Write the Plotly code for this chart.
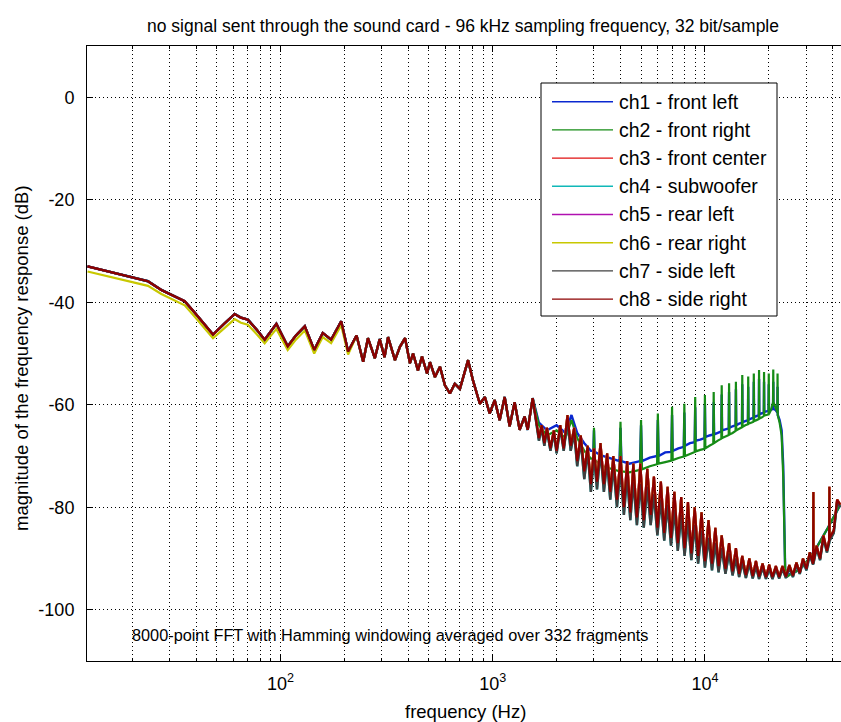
import plotly.graph_objects as go

# ---------------- data ----------------
channel_names = ["ch1 - front left", "ch2 - front right", "ch3 - front center",
                 "ch4 - subwoofer", "ch5 - rear left", "ch6 - rear right",
                 "ch7 - side left", "ch8 - side right"]
channel_colors = ["#0a28d0", "#168c16", "#e01010", "#10b8b8",
                  "#b010b0", "#c8c800", "#404040", "#8c0000"]

# low-frequency part, common to all channels (Hz, dB)
freq_lf = [12.3, 16, 20, 23.7, 27.4, 31.6, 35.3, 39.3, 43.8, 48.0,
           54.5, 60.7, 65, 70.1, 77, 84.1, 95.5, 108, 118, 130,
           144, 158, 173, 193, 208, 228, 245, 258, 278, 293,
           309, 321, 346, 365, 386, 407, 421, 444, 464, 490,
           506, 534, 564, 595, 628, 662, 700, 735, 765, 806,
           869, 918, 967, 1021, 1078, 1138, 1201, 1268, 1339, 1413,
           1461, 1542]
level_lf = [-33.0, -34.2, -35.1, -35.9, -37.6, -38.9, -39.8, -42.0, -44.4, -46.3,
            -44.1, -42.3, -43.0, -43.4, -45.3, -47.3, -44.2, -48.6, -46.5, -44.7,
            -49.3, -46.0, -47.3, -43.7, -49.6, -46.5, -51.6, -47.0, -50.9, -47.2,
            -50.7, -46.8, -51.3, -48.7, -47.0, -51.9, -50.0, -53.3, -50.6, -53.9,
            -51.7, -54.6, -52.6, -56.2, -57.8, -55.9, -56.9, -54.0, -51.3, -55.2,
            -59.8, -58.5, -61.7, -59.1, -63.0, -58.5, -64.2, -59.5, -64.9, -62.3,
            -64.9, -58.7]
# ch6 (yellow) runs slightly below the others at low frequency
level_lf_ch6 = [-34.0, -35.1, -36.0, -36.8, -38.4, -39.7, -40.6, -42.8, -45.2, -47.0,
                -45.0, -43.3, -44.0, -44.4, -46.2, -48.0, -45.2, -49.3, -47.3, -45.5,
                -50.0, -46.8, -48.0, -44.5, -50.2, -46.5, -51.6, -47.0, -50.9, -47.2,
                -50.7, -46.8, -51.3, -48.7, -47.0, -51.9, -50.0, -53.3, -50.6, -53.9,
                -51.7, -54.6, -52.6, -56.2, -57.8, -55.9, -56.9, -54.0, -51.3, -55.2,
                -59.8, -58.5, -61.7, -59.1, -63.0, -58.5, -64.2, -59.5, -64.9, -62.3,
                -64.9, -58.7]

# high-frequency part of ch1 / ch2 (rising noise with 1 kHz harmonics, cut near 24 kHz)
freq_hf12 = [1650, 1800, 2000, 2200, 2350, 2500, 2700, 2900, 2980, 3000,
             3020, 3300, 3600, 3960, 4000, 4040, 4400, 4950, 5000, 5050,
             5500, 5950, 6000, 6050, 6500, 6950, 7000, 7050, 7500, 7950,
             8000, 8050, 8500, 8950, 9000, 9050, 9500, 9950, 10000, 10050,
             10500, 10950, 11000, 11050, 11500, 11950, 12000, 12050, 12500, 12950,
             13000, 13050, 13500, 13950, 14000, 14050, 14500, 14950, 15000, 15050,
             15500, 15950, 16000, 16050, 16500, 16950, 17000, 17050, 17500, 17950,
             18000, 18050, 18500, 18950, 19000, 19050, 19500, 19950, 20000, 20050,
             20500, 20950, 21000, 21050, 21500, 21950, 22000, 22050, 22500, 23000,
             23400, 23700, 23900, 24500, 25500, 27000, 29000, 31000, 34000, 38000,
             43500]
ch1_hf = [-63.5, -65.0, -64.0, -65.5, -62.0, -65.5, -67.5, -69.0, -69.0, -65.0,
          -69.2, -70.0, -70.5, -71.0, -64.5, -71.0, -71.5, -71.0, -64.0, -71.0,
          -70.3, -70.0, -63.0, -70.0, -69.3, -69.2, -62.0, -69.0, -68.5, -68.2,
          -61.5, -68.0, -67.5, -67.3, -60.5, -67.0, -66.8, -66.5, -60.0, -66.3,
          -66.0, -65.8, -59.5, -65.8, -65.5, -65.2, -58.0, -65.0, -64.8, -64.6,
          -57.5, -64.5, -64.2, -64.0, -57.0, -64.0, -63.7, -63.5, -56.0, -63.4,
          -63.2, -63.0, -56.5, -62.9, -62.7, -62.5, -55.5, -62.4, -62.2, -62.0,
          -55.0, -61.9, -61.7, -61.5, -55.5, -61.4, -61.3, -61.2, -56.0, -61.1,
          -61.0, -60.8, -55.5, -60.8, -61.0, -61.5, -56.5, -62.0, -63.0, -65.0,
          -72.0, -86.0, -92.5, -93.0, -93.0, -92.5, -91.5, -90.0, -87.5, -84.0,
          -79.5]
ch2_hf = [-64.0, -66.0, -65.0, -66.5, -63.0, -66.5, -69.0, -70.5, -70.5, -64.5,
          -70.8, -72.0, -72.5, -73.0, -63.3, -73.0, -73.2, -72.7, -63.0, -72.6,
          -72.0, -71.6, -61.7, -71.5, -71.2, -70.9, -60.4, -70.8, -70.4, -70.1,
          -59.8, -70.0, -69.6, -69.2, -58.5, -69.1, -68.8, -68.6, -58.1, -68.5,
          -68.0, -67.6, -57.5, -67.5, -67.0, -66.6, -56.2, -66.5, -66.2, -65.9,
          -55.8, -65.8, -65.5, -65.1, -55.5, -65.0, -64.7, -64.4, -54.2, -64.3,
          -64.0, -63.8, -54.5, -63.7, -63.5, -63.3, -53.9, -63.2, -63.0, -62.8,
          -53.2, -62.7, -62.5, -62.2, -53.6, -62.1, -62.0, -61.9, -53.9, -61.8,
          -61.0, -59.5, -53.1, -59.5, -60.5, -61.5, -53.9, -62.0, -63.5, -66.0,
          -74.0, -82.0, -92.0, -93.5, -93.0, -92.5, -91.5, -90.0, -87.5, -84.0,
          -79.5]

# high-frequency noise floor of ch3..ch8 (alternating peaks / troughs)
freq_floor = [1600, 1650, 1700, 1750, 1800, 1870, 1940, 2000, 2080, 2160,
              2250, 2330, 2420, 2500, 2600, 2700, 2800, 2900, 3000, 3100,
              3220, 3340, 3460, 3580, 3700, 3850, 4000, 4150, 4300, 4450,
              4600, 4780, 4960, 5150, 5350, 5550, 5750, 5970, 6200, 6430,
              6670, 6920, 7180, 7450, 7730, 8020, 8320, 8630, 8950, 9290,
              9640, 10000, 10400, 10800, 11200, 11600, 12000, 12500, 13000, 13500,
              14000, 14500, 15000, 15600, 16200, 16800, 17400, 18000, 18700, 19400,
              20100, 20800, 21600, 22400, 23200, 24100, 25000, 26000, 27000, 28000,
              29000, 30100, 31200, 32350, 32450, 32550, 33600, 34900, 36200, 37600,
              38500, 38600, 38700, 40500, 42000, 43500]
floor_hf = [-63.0, -66.5, -64.0, -67.5, -64.5, -68.5, -65.0, -69.0, -64.0, -68.5,
            -62.0, -68.0, -64.5, -71.0, -66.0, -73.0, -68.0, -75.5, -68.5, -75.0,
            -67.5, -75.5, -69.5, -77.0, -70.0, -78.5, -70.0, -80.0, -71.0, -81.0,
            -71.5, -82.0, -71.5, -82.5, -72.5, -81.5, -74.0, -84.0, -75.0, -85.0,
            -76.0, -86.0, -77.0, -87.0, -78.0, -88.0, -79.0, -89.0, -80.0, -89.5,
            -81.0, -90.5, -82.5, -91.0, -84.0, -91.5, -85.5, -92.0, -87.0, -92.5,
            -88.0, -93.0, -89.5, -93.2, -90.0, -93.4, -90.5, -93.5, -91.0, -93.6,
            -91.2, -93.6, -91.5, -93.6, -91.5, -93.5, -91.3, -93.3, -90.8, -92.8,
            -90.0, -92.0, -88.8, -91.0, -77.0, -90.5, -87.5, -90.0, -85.5, -88.5,
            -86.5, -76.0, -86.0, -84.5, -78.5, -79.5]
# ch4 / ch7 (cyan, grey) sit slightly lower in the 2.5-16 kHz range
floor_hf_low = [-63.5, -67.0, -64.5, -68.0, -65.0, -69.0, -65.5, -69.5, -64.5, -69.0,
                -63.0, -69.0, -65.5, -72.0, -67.0, -74.5, -69.0, -77.0, -70.0, -76.5,
                -69.0, -77.0, -71.0, -78.5, -72.0, -80.0, -72.5, -81.5, -74.0, -82.5,
                -75.0, -83.5, -75.5, -84.0, -76.0, -83.5, -77.5, -85.5, -78.5, -86.5,
                -79.5, -87.5, -80.5, -88.5, -81.5, -89.5, -82.5, -90.3, -83.5, -91.0,
                -84.5, -91.8, -86.0, -92.3, -87.0, -92.7, -88.0, -93.0, -89.0, -93.3,
                -90.0, -93.6, -90.8, -93.8, -91.0, -93.9, -91.5, -94.0, -91.8, -94.0,
                -92.0, -94.0, -92.0, -93.9, -92.0, -93.8, -91.8, -93.6, -91.2, -93.0,
                -90.5, -92.3, -89.3, -91.2, -90.8, -90.8, -88.0, -90.3, -86.0, -88.8,
                -87.0, -86.8, -86.5, -85.0, -79.0, -80.0]

y_tick_vals = [-100, -80, -60, -40, -20, 0]
y_tick_text = ["-100", "-80", "-60", "-40", "-20", "0"]
x_tick_vals = [100, 1000, 10000]
x_tick_text = ["10<sup>2</sup>", "10<sup>3</sup>", "10<sup>4</sup>"]

title_text = "no signal sent through the sound card - 96 kHz sampling frequency, 32 bit/sample"
x_title = "frequency (Hz)"
y_title = "magnitude of the frequency response (dB)"
note_text = "8000-point FFT with Hamming windowing averaged over 332 fragments"

# ---------------- assemble channel series ----------------
series_x = [freq_lf + freq_hf12, freq_lf + freq_hf12] + [freq_lf + freq_floor] * 6
series_y = [level_lf + ch1_hf,
            level_lf + ch2_hf,
            level_lf + floor_hf,
            level_lf + floor_hf_low,
            level_lf + floor_hf,
            level_lf_ch6 + floor_hf,
            level_lf + floor_hf_low,
            level_lf + floor_hf]
line_widths = [2.4, 2.2, 2.2, 2.4, 2.2, 2.2, 2.4, 2.2]

FONT = "Liberation Sans, Arial, sans-serif"

fig = go.Figure()
for name, color, xs, ys, lw in zip(channel_names, channel_colors, series_x, series_y, line_widths):
    fig.add_trace(go.Scatter(x=xs, y=ys, mode="lines", name=name,
                             line=dict(color=color, width=lw), showlegend=False))

# ---------------- layout ----------------
W, H = 841, 722
L, R, T, B = 87, 0, 46, 61
pw, ph = W - L - R, H - T - B

def px_x(px):
    return (px - L) / pw

def px_y(py):
    return (H - B - py) / ph

minor_vals = [m * 10 ** d for d in range(1, 5) for m in range(2, 10) if m * 10 ** d < 45000]
grid_dash = "1px,3px"

fig.update_layout(
    width=W, height=H,
    margin=dict(l=L, r=R, t=T, b=B),
    paper_bgcolor="white", plot_bgcolor="white",
    font=dict(family=FONT, size=18, color="black"),
    title=dict(text=title_text, x=px_x(463), xref="paper", xanchor="center",
               y=1 - 26 / H, yref="container", yanchor="middle",
               font=dict(family=FONT, size=17.5, color="black")),
    xaxis=dict(type="log", range=[1.0873, 4.6415],
               tickvals=x_tick_vals, ticktext=x_tick_text,
               ticks="inside", ticklen=6, tickcolor="black",
               showline=True, linecolor="black", linewidth=1, mirror="ticks",
               showgrid=True, gridcolor="black", gridwidth=1, griddash=grid_dash,
               zeroline=False, ticklabelstandoff=6,
               tickfont=dict(family=FONT, size=18, color="black"),
               minor=dict(tickvals=minor_vals, ticks="inside", ticklen=3,
                          tickcolor="black", showgrid=True, gridcolor="black",
                          gridwidth=1, griddash=grid_dash)),
    yaxis=dict(range=[-110, 10], tickvals=y_tick_vals, ticktext=y_tick_text,
               ticks="inside", ticklen=6, tickcolor="black",
               showline=True, linecolor="black", linewidth=1, mirror=False,
               showgrid=True, gridcolor="black", gridwidth=1, griddash=grid_dash,
               zeroline=False, ticklabelstandoff=8,
               tickfont=dict(family=FONT, size=18, color="black")),
)

annotations = [
    dict(text=x_title, x=px_x(465), y=px_y(711), xref="paper", yref="paper",
         xanchor="center", yanchor="middle", showarrow=False,
         font=dict(family=FONT, size=18.5, color="black")),
    dict(text=y_title, x=px_x(21), y=px_y(358), xref="paper", yref="paper",
         xanchor="center", yanchor="middle", textangle=-90, showarrow=False,
         font=dict(family=FONT, size=18.5, color="black")),
    dict(text=note_text, x=px_x(130), y=px_y(635), xref="paper", yref="paper",
         xanchor="left", yanchor="middle", showarrow=False,
         font=dict(family=FONT, size=16.3, color="black")),
]

# legend drawn as a boxed list (box, line samples and labels)
leg_left, leg_right, leg_top, leg_bottom = 541, 777, 83, 316
leg_first, leg_step = 101.7, 28.2
shapes = [dict(type="rect", xref="paper", yref="paper",
               x0=px_x(leg_left), x1=px_x(leg_right),
               y0=px_y(leg_bottom), y1=px_y(leg_top),
               line=dict(color="black", width=1), fillcolor="white", layer="above")]
for i, (name, color) in enumerate(zip(channel_names, channel_colors)):
    yy = px_y(leg_first + i * leg_step)
    shapes.append(dict(type="line", xref="paper", yref="paper",
                       x0=px_x(552), x1=px_x(613), y0=yy, y1=yy,
                       line=dict(color=color, width=1.4), layer="above"))
    annotations.append(dict(text=name, x=px_x(617), y=yy, xref="paper", yref="paper",
                            xanchor="left", yanchor="middle", showarrow=False,
                            font=dict(family=FONT, size=19.5, color="black")))

fig.update_layout(shapes=shapes, annotations=annotations)
fig.write_html("out.html")
